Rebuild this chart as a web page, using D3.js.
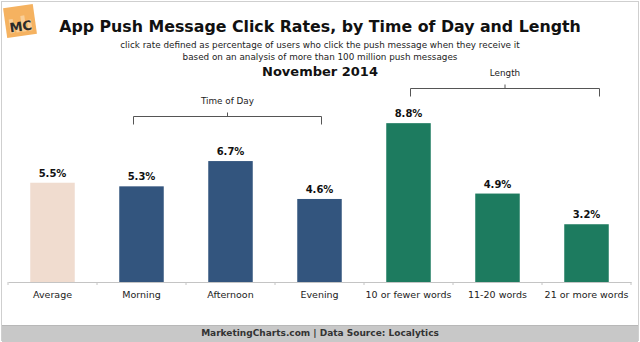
<!DOCTYPE html>
<html>
<head>
<meta charset="utf-8">
<script src="https://cdn.jsdelivr.net/npm/d3@7"></script>
<style>
  html, body { margin: 0; padding: 0; background: #fff; }
  svg { display: block; font-family: "DejaVu Sans", Verdana, sans-serif; }
</style>
</head>
<body>
<svg id="chart" width="640" height="342"></svg>
<script>
// Click rate (%) by category
const categories = ["Average", "Morning", "Afternoon", "Evening", "10 or fewer words", "11-20 words", "21 or more words"];
const clickRates = [5.5, 5.3, 6.7, 4.6, 8.8, 4.9, 3.2];
const groups = ["avg", "time", "time", "time", "length", "length", "length"];
const valueLabels = ["5.5%", "5.3%", "6.7%", "4.6%", "8.8%", "4.9%", "3.2%"];

// Bracket groupings drawn above the bars
const brackets = [
  { label: "Time of Day", first: "Morning", last: "Evening" },
  { label: "Length", first: "10 or fewer words", last: "21 or more words" }
];

const colors = { avg: "#f0dccf", time: "#33557e", length: "#1d7b5f" };

const W = 640, H = 342;
const svg = d3.select("#chart");

// frame
svg.append("rect").attr("x", 1.5).attr("y", 1.5).attr("width", W - 3).attr("height", H - 3)
  .attr("fill", "#fff").attr("stroke", "#cfcfcf");

// footer band
svg.append("rect").attr("x", 2).attr("y", 325).attr("width", W - 4).attr("height", 17).attr("fill", "#c8c8c8");
svg.append("line").attr("x1", 2).attr("x2", W - 2).attr("y1", 325.5).attr("y2", 325.5).attr("stroke", "#b8b8b8");
svg.append("text").attr("x", 320).attr("y", 336).attr("text-anchor", "middle")
  .attr("font-size", 9).attr("font-weight", "bold").attr("fill", "#333")
  .text("MarketingCharts.com | Data Source: Localytics");

// logo
const logo = svg.append("g").attr("transform", "translate(20,21) rotate(-8)");
logo.append("rect").attr("x", -15).attr("y", -15).attr("width", 30).attr("height", 30).attr("fill", "#f5b260");
[[-11, 4, 14], [-5, 4, 9], [1, 4, 16], [7, 4, 11]].forEach(([bx, bw, bh]) => {
  logo.append("rect").attr("x", bx).attr("y", 11 - bh).attr("width", bw).attr("height", bh).attr("fill", "#f9cf98");
});
logo.append("text").attr("x", 0).attr("y", 10).attr("text-anchor", "middle")
  .attr("font-size", 13).attr("font-weight", "bold").attr("fill", "#2b2b2b").text("MC");

// titles
svg.append("text").attr("x", 320).attr("y", 32).attr("text-anchor", "middle")
  .attr("font-size", 15.8).attr("font-weight", "bold").attr("fill", "#111")
  .text("App Push Message Click Rates, by Time of Day and Length");
svg.append("text").attr("x", 320).attr("y", 48).attr("text-anchor", "middle")
  .attr("font-size", 8.8).attr("fill", "#222")
  .text("click rate defined as percentage of users who click the push message when they receive it");
svg.append("text").attr("x", 320).attr("y", 60).attr("text-anchor", "middle")
  .attr("font-size", 8.8).attr("fill", "#222")
  .text("based on an analysis of more than 100 million push messages");
svg.append("text").attr("x", 320).attr("y", 76).attr("text-anchor", "middle")
  .attr("font-size", 13).attr("font-weight", "bold").attr("fill", "#111")
  .text("November 2014");

// scales
const x = d3.scaleBand().domain(categories).range([8, 631]).paddingInner(0.5).paddingOuter(0.25);
const y = d3.scaleLinear().domain([0, 10]).range([282, 101.5]);

// bars
const data = categories.map((c, i) => ({ c, v: clickRates[i], g: groups[i], label: valueLabels[i] }));
svg.append("g").selectAll("rect").data(data).join("rect")
  .attr("x", d => x(d.c)).attr("width", x.bandwidth())
  .attr("y", d => y(d.v)).attr("height", d => y(0) - y(d.v))
  .attr("fill", d => colors[d.g]);

svg.append("g").selectAll("text").data(data).join("text")
  .attr("x", d => x(d.c) + x.bandwidth() / 2).attr("y", d => y(d.v) - 6)
  .attr("text-anchor", "middle").attr("font-size", 10).attr("font-weight", "bold").attr("fill", "#111")
  .text(d => d.label);

// category axis
const step = x.step();
const axis = d3.axisBottom(x).tickSize(0).tickPadding(9);
const ax = svg.append("g").attr("transform", `translate(0,${y(0)})`).call(axis);
ax.select(".domain").attr("stroke", "#c4c4c4");
ax.selectAll("text").attr("font-size", 9.5).attr("fill", "#222").attr("font-family", "DejaVu Sans, Verdana, sans-serif");
const bounds = d3.range(categories.length + 1).map(i => 8 + i * step);
ax.selectAll("line.bound").data(bounds).join("line").attr("class", "bound")
  .attr("x1", d => d).attr("x2", d => d).attr("y1", 0).attr("y2", 3).attr("stroke", "#c4c4c4");

// group brackets
const bracketRows = { "Time of Day": { yb: 116.5, ly: 104, x0: -8, x1: 2 }, "Length": { yb: 88.5, ly: 76, x0: 2, x1: 13 } };
brackets.forEach(b => {
  const r = bracketRows[b.label];
  const xa = x(b.first) + x.bandwidth() / 2 + r.x0;
  const xb = x(b.last) + x.bandwidth() / 2 + r.x1;
  const xm = (xa + xb) / 2;
  const g = svg.append("g").attr("stroke", "#555").attr("fill", "none").attr("stroke-width", 1);
  g.append("path").attr("d", `M${xa},${r.yb + 8}V${r.yb}H${xb}V${r.yb + 8}M${xm},${r.yb}V${r.yb - 4}`);
  svg.append("text").attr("x", xm).attr("y", r.ly).attr("text-anchor", "middle")
    .attr("font-size", 8.8).attr("fill", "#222").text(b.label);
});
</script>
</body>
</html>
